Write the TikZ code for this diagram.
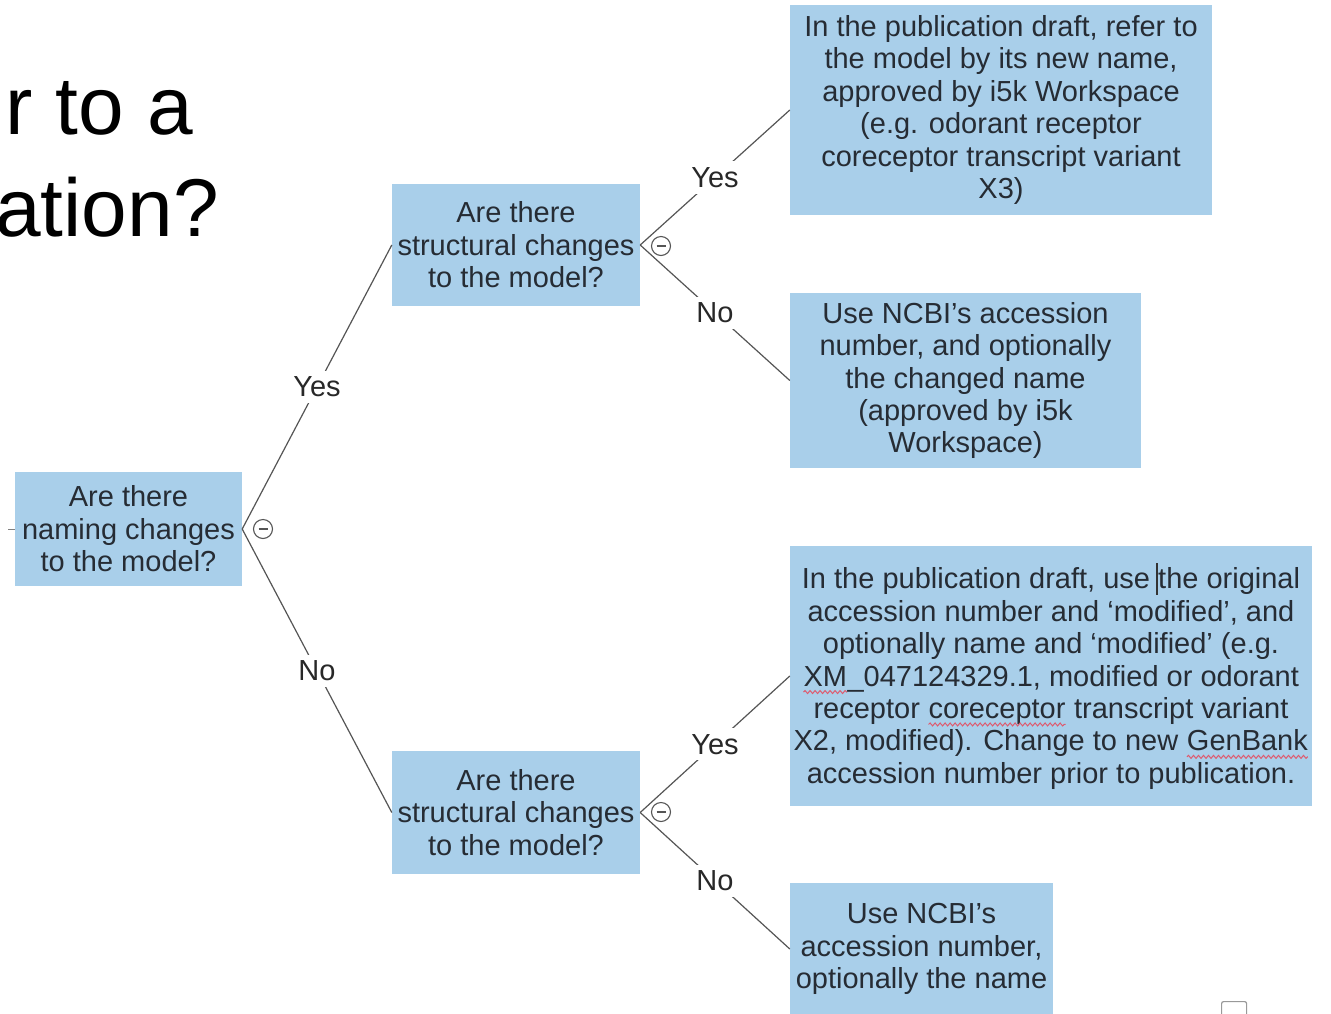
\documentclass[tikz,border=0pt]{standalone}
\usepackage{fontspec}
\setmainfont{Liberation Sans}
\usetikzlibrary{decorations.pathmorphing}
\definecolor{boxfill}{RGB}{169,207,234}
\definecolor{boxtext}{RGB}{38,44,52}
\definecolor{labeltext}{RGB}{40,40,40}
\definecolor{linegray}{RGB}{85,85,85}
\definecolor{spellred}{RGB}{222,90,110}
\newcommand\squig[1]{\tikz[baseline=(w.base)]{\node[shape=rectangle,inner sep=0pt,outer sep=0pt,minimum width=0pt,minimum height=0pt,fill=none,draw=none,align=left,text=boxtext](w){#1};\draw[spellred,line width=1pt,decorate,decoration={snake,amplitude=1.5pt,segment length=5pt}] ([yshift=-6pt]w.base west) -- ([yshift=-6pt]w.base east);}}
\newcommand\txtcursor{\makebox[0pt][r]{\color{black!80}\rule[-0.2em]{0.04em}{1.1em}\hspace{0.02em}}}
\begin{document}
\begin{tikzpicture}[x=1pt,y=-1pt,
  box/.style={fill=boxfill, draw=none, text=boxtext, font=\fontsize{29}{32.4}\selectfont, align=center, inner sep=0pt},
  conn/.style={draw=linegray, line width=1.2pt},
  lbl/.style={fill=white, text=labeltext, font=\fontsize{29}{32.4}\selectfont, inner sep=6pt},
  collapse/.style={circle, draw=linegray, line width=1.1pt, minimum size=19pt, inner sep=0pt,
    path picture={\draw[linegray, line width=1.1pt] ([xshift=-4.5pt]path picture bounding box.center) -- ([xshift=4.5pt]path picture bounding box.center);}},
  titletext/.style={font=\fontsize{82}{92}\selectfont, text=black, inner sep=0pt}]
\useasboundingbox (0,0) rectangle (1331,1013);
\clip (0,0) rectangle (1331,1013);
\fill[white] (0,0) rectangle (1331,1013);

% title fragment
\node[titletext, anchor=base east] (t1) at (193,134) {r to a};
\node[titletext, anchor=base east] (t2) at (219,236) {ation?};

% boxes
\node[box, minimum width=227pt, minimum height=114pt] (A) at (128.5,529) {Are there\\naming changes\\to the model?};
\node[box, minimum width=248pt, minimum height=122pt] (B1) at (516,245) {Are there\\structural changes\\to the model?};
\node[box, minimum width=248pt, minimum height=123pt] (B2) at (516,812.5) {Are there\\structural changes\\to the model?};
\node[box, minimum width=422pt, minimum height=210pt] (C1) at (1001,110) {In the publication draft, refer to\\the model by its new name,\\approved by i5k Workspace\\(e.g. odorant receptor\\coreceptor transcript variant\\X3)};
\node[box, minimum width=351pt, minimum height=175pt] (C2) at (965.5,380.5) {Use NCBI’s accession\\number, and optionally\\the changed name\\(approved by i5k\\Workspace)};
\node[box, minimum width=522pt, minimum height=260pt] (C3) at (1051,676) {In the publication draft, use \txtcursor the original\\accession number and ‘modified’, and\\optionally name and ‘modified’ (e.g.\\\squig{XM}\_047124329.1, modified or odorant\\receptor \squig{coreceptor} transcript variant\\X2, modified). Change to new \squig{GenBank}\\accession number prior to publication.};
\node[box, minimum width=263pt, minimum height=132pt] (C4) at (921.5,949) {Use NCBI’s\\accession number,\\optionally the name};

% connectors
\draw[conn] (A.east) -- node[lbl] (lAY) {Yes} (B1.west);
\draw[conn] (A.east) -- node[lbl] (lAN) {No} (B2.west);
\draw[conn] (B1.east) -- node[lbl] (lB1Y) {Yes} (C1.west);
\draw[conn] (B1.east) -- node[lbl] (lB1N) {No} (C2.west);
\draw[conn] (B2.east) -- node[lbl] (lB2Y) {Yes} (C3.west);
\draw[conn] (B2.east) -- node[lbl] (lB2N) {No} (C4.west);

% collapse markers
\node[collapse] (cA) at (263,529) {};
\node[collapse] (cB1) at (661,246) {};
\node[collapse] (cB2) at (661,812) {};

% small stub at the left of the root
\coordinate (stub) at (8,529);
\draw[draw=gray, line width=1pt] (stub) -- (A.west);

% small square at the bottom right
\node[draw=gray!80, line width=1.2pt, rounded corners=2pt, minimum width=25pt, minimum height=24pt, inner sep=0pt, anchor=north west] (sq) at (1221,1001) {};
\end{tikzpicture}
\end{document}
